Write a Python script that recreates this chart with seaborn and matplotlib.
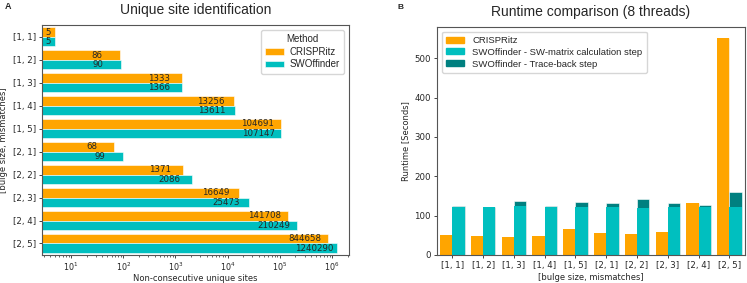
import numpy as np
import pandas as pd
import matplotlib
matplotlib.use("Agg")
import matplotlib.pyplot as plt
from matplotlib.patches import Patch
import seaborn as sns

categories = ["[1, 1]", "[1, 2]", "[1, 3]", "[1, 4]", "[1, 5]",
              "[2, 1]", "[2, 2]", "[2, 3]", "[2, 4]", "[2, 5]"]
crispritz_sites = [5, 86, 1333, 13256, 104691, 68, 1371, 16649, 141708, 844658]
swoffinder_sites = [5, 90, 1366, 13611, 107147, 99, 2086, 25473, 210249, 1240290]

crispritz_runtime = [51, 47, 46, 48, 67, 55, 54, 58, 132, 552]
sw_matrix_runtime = [123, 121, 124, 122, 122, 121, 120, 122, 121, 121]
traceback_runtime = [1, 0.5, 14, 2, 13, 10, 21, 11, 5, 40]

ORANGE = "#FFA500"
CYAN = "#00BFBF"
TEAL = "#008080"

sns.set_style("ticks")
plt.rcParams["font.family"] = ["DejaVu Sans"]

TICK_FS = 6.2
LABEL_FS = 6.0

fig = plt.figure(figsize=(7.47, 2.83), dpi=100)
axA = fig.add_axes([0.0562, 0.0990, 0.411, 0.812])
axB = fig.add_axes([0.585, 0.099, 0.412, 0.806])

# ---- Panel A ----
dfA = pd.DataFrame({
    "cat": categories * 2,
    "Method": ["CRISPRitz"] * len(categories) + ["SWOffinder"] * len(categories),
    "value": crispritz_sites + swoffinder_sites,
})
sns.barplot(data=dfA, y="cat", x="value", hue="Method", orient="h",
            palette=[ORANGE, CYAN], ax=axA, edgecolor="white", linewidth=0.4,
            errorbar=None, saturation=1)
axA.set_xscale("log")
xmin = 2.78
axA.set_xlim(xmin, 2.12e6)
# value labels: centred on visible bar, but at most ~0.44 decades in from the bar end
for cont in axA.containers:
    for rect in cont:
        v = rect.get_width()
        yc = rect.get_y() + rect.get_height() / 2
        half = (np.log10(v) - np.log10(xmin)) / 2
        xt = v / 10 ** min(0.44, half)
        axA.text(xt, yc, f"{int(round(v))}", ha="center", va="center", fontsize=6.2)
axA.set_xlabel("Non-consecutive unique sites", fontsize=LABEL_FS, labelpad=0.5)
axA.set_ylabel("[bulge size, mismatches]", fontsize=LABEL_FS, labelpad=3)
axA.tick_params(axis="y", labelsize=TICK_FS, length=2.5, width=0.6, pad=2)
axA.tick_params(axis="x", labelsize=5.8, length=2.5, width=0.6, pad=1.5)
axA.tick_params(which="minor", length=1.5, width=0.5)
axA.set_title("Unique site identification", fontsize=10, family="Liberation Sans", pad=8)
axA.legend(title="Method", loc="upper right", prop={"family": "Liberation Sans", "size": 7},
           title_fontproperties={"family": "Liberation Sans", "size": 7},
           handlelength=1.9, handleheight=0.6, labelspacing=0.25, borderpad=0.45,
           handletextpad=0.6)

# ---- Panel B ----
total_sw = [m + t for m, t in zip(sw_matrix_runtime, traceback_runtime)]
dfB_back = pd.DataFrame({
    "cat": categories * 2,
    "tool": ["CRISPRitz"] * len(categories) + ["SWOffinder"] * len(categories),
    "value": crispritz_runtime + total_sw,
})
dfB_front = pd.DataFrame({
    "cat": categories * 2,
    "tool": ["CRISPRitz"] * len(categories) + ["SWOffinder"] * len(categories),
    "value": crispritz_runtime + sw_matrix_runtime,
})
sns.barplot(data=dfB_back, x="cat", y="value", hue="tool", palette=[ORANGE, TEAL],
            ax=axB, edgecolor="white", linewidth=0.4, errorbar=None, saturation=1, legend=False)
sns.barplot(data=dfB_front, x="cat", y="value", hue="tool", palette=[ORANGE, CYAN],
            ax=axB, edgecolor="none", linewidth=0, errorbar=None, saturation=1, legend=False)
axB.set_xlabel("[bulge size, mismatches]", fontsize=LABEL_FS, labelpad=2)
axB.set_ylabel("Runtime [Seconds]", fontsize=LABEL_FS, labelpad=3)
axB.tick_params(labelsize=TICK_FS, length=2.5, width=0.6, pad=2)
axB.set_title("Runtime comparison (8 threads)", fontsize=10, family="Liberation Sans", pad=8)
handles = [Patch(color=ORANGE), Patch(color=CYAN), Patch(color=TEAL)]
axB.legend(handles, ["CRISPRitz", "SWOffinder - SW-matrix calculation step",
                     "SWOffinder - Trace-back step"], loc="upper left",
           prop={"family": "Liberation Sans", "size": 6.8}, handlelength=1.9,
           handleheight=0.6, labelspacing=0.3, borderpad=0.45, handletextpad=0.9)

for ax in (axA, axB):
    for s in ax.spines.values():
        s.set_linewidth(0.8)
        s.set_color("#555555")

fig.text(0.006, 0.968, "A", fontsize=6.5, fontweight="bold", family="Liberation Sans")
fig.text(0.532, 0.968, "B", fontsize=6, fontweight="bold", family="Liberation Sans")

fig.savefig("out.png", dpi=100)
